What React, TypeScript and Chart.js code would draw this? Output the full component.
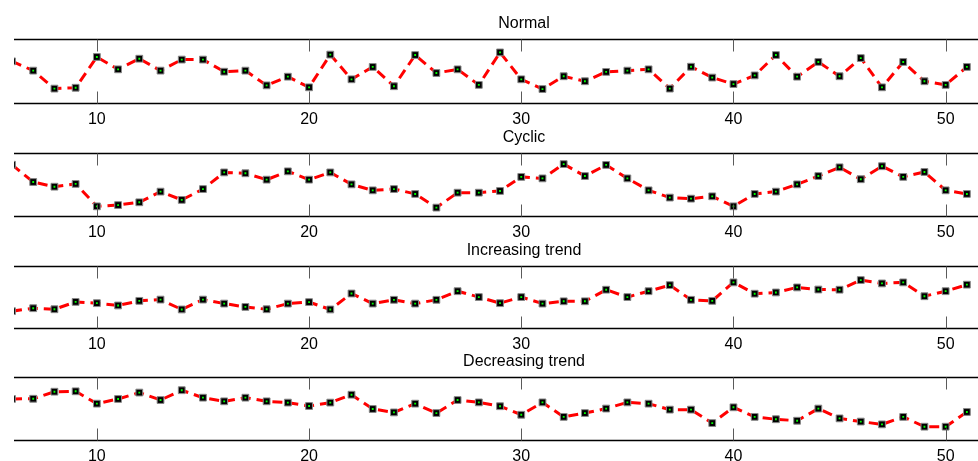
import React, { useEffect, useRef } from "react";
import { Chart, registerables } from "chart.js";

Chart.register(...registerables);

// x positions (sample index)
const xIndex = [
  6, 7, 8, 9, 10, 11, 12, 13, 14, 15, 16, 17, 18, 19, 20, 21, 22, 23, 24, 25, 26, 27, 28,
  29, 30, 31, 32, 33, 34, 35, 36, 37, 38, 39, 40, 41, 42, 43, 44, 45, 46, 47, 48, 49, 50, 51,
];

const xTicks = [10, 20, 30, 40, 50];

const titles = ["Normal", "Cyclic", "Increasing trend", "Decreasing trend"];

const normalValues = [
  39.7, 35.4, 27.1, 27.5, 41.7, 36.0, 40.9, 35.4, 40.5, 40.5, 34.9, 35.4, 28.6, 32.6, 27.7,
  42.8, 31.4, 37.1, 28.2, 42.6, 34.3, 36.0, 28.8, 43.8, 31.4, 26.9, 32.8, 30.5, 34.8, 35.4,
  36.0, 27.1, 37.2, 32.2, 29.2, 33.2, 42.6, 32.6, 39.4, 32.8, 41.2, 27.7, 39.4, 30.5, 28.8,
  37.1,
];

const cyclicValues = [
  44.5, 36.4, 34.2, 35.5, 25.0, 25.6, 26.9, 31.9, 28.0, 33.1, 40.9, 40.5, 37.5, 41.4, 37.5,
  40.9, 35.3, 32.5, 33.1, 30.8, 24.4, 31.4, 31.4, 32.2, 38.8, 38.1, 44.8, 39.2, 44.4, 38.1,
  32.5, 29.1, 28.6, 29.7, 25.0, 30.8, 31.9, 35.3, 39.2, 43.3, 37.7, 43.8, 38.8, 41.1, 32.5,
  30.8,
];

const increasingValues = [
  28.5, 29.9, 29.4, 32.9, 32.3, 31.2, 33.4, 34.0, 29.3, 34.0, 32.1, 30.5, 29.4, 32.1, 32.8,
  29.3, 36.9, 32.1, 33.9, 32.1, 33.9, 38.0, 35.2, 32.3, 35.2, 32.1, 33.2, 33.2, 38.7, 35.2,
  38.0, 40.9, 33.9, 33.4, 42.2, 36.8, 37.4, 39.8, 38.8, 38.7, 43.3, 41.7, 42.2, 35.6, 38.0,
  41.1,
];

const decreasingValues = [
  39.7, 39.8, 43.1, 43.3, 37.5, 39.7, 42.7, 39.2, 43.8, 40.3, 38.6, 40.3, 38.6, 38.0, 36.4,
  38.0, 41.7, 35.0, 33.4, 37.5, 33.1, 39.2, 38.1, 36.3, 32.3, 38.1, 31.3, 33.1, 35.2, 38.1,
  37.5, 34.7, 34.7, 28.4, 35.8, 31.3, 30.2, 29.5, 35.2, 30.6, 29.1, 27.8, 31.3, 26.7, 26.7,
  33.6,
];

const seriesList = [normalValues, cyclicValues, increasingValues, decreasingValues];

const Y_MIN = 20;
const Y_MAX = 50;
const X_MIN = 6.095;
const X_MAX = 53.89;

// layout (pixels)
const PLOT_TOPS = [39, 153, 266, 377];
const PLOT_HEIGHTS = [65, 64, 63, 64];
const TITLE_BLOCK = 24;
const AXIS_BLOCK = 30;
const CANVAS_W = 1034;
const FONT = "'Liberation Sans', Arial, Helvetica, sans-serif";

const framePlugin = {
  id: "frameTicks",
  afterDraw(chart: any) {
    const { ctx, chartArea } = chart;
    const xs = chart.scales.x;
    ctx.save();
    const top = Math.round(chartArea.top) + 0.5;
    const bottom = Math.round(chartArea.bottom) - 0.5;
    ctx.strokeStyle = "#000";
    ctx.lineWidth = 1.3;
    ctx.beginPath();
    ctx.moveTo(chartArea.left, top);
    ctx.lineTo(chartArea.right, top);
    ctx.moveTo(chartArea.left, bottom);
    ctx.lineTo(chartArea.right, bottom);
    ctx.stroke();
    ctx.strokeStyle = "#5a5a5a";
    ctx.lineWidth = 1;
    ctx.beginPath();
    for (const t of xTicks) {
      const px = Math.round(xs.getPixelForValue(t)) + 0.5;
      ctx.moveTo(px, top);
      ctx.lineTo(px, top + 12);
      ctx.moveTo(px, bottom);
      ctx.lineTo(px, bottom - 12);
    }
    ctx.stroke();
    ctx.restore();
  },
};

function Panel({ index }: { index: number }) {
  const ref = useRef<HTMLCanvasElement | null>(null);
  const h = TITLE_BLOCK + PLOT_HEIGHTS[index] + AXIS_BLOCK;
  useEffect(() => {
    if (!ref.current) return;
    const values = seriesList[index];
    const pts = xIndex.map((x, i) => ({ x, y: values[i] }));
    const chart = new Chart(ref.current, {
      type: "line",
      data: {
        datasets: [
          {
            data: pts,
            order: 0,
            showLine: false,
            pointStyle: "rect",
            pointRadius: 1.3,
            pointBackgroundColor: "#00ff00",
            pointBorderWidth: 0,
            clip: { left: 0, right: 0, top: 8, bottom: 8 } as any,
          },
          {
            data: pts,
            order: 1,
            borderColor: "#ff0000",
            borderWidth: 3,
            borderDash: [10, 6],
            tension: 0,
            fill: false,
            pointStyle: "rect",
            pointRadius: 4.8,
            pointBackgroundColor: "#000",
            pointBorderColor: "#888",
            pointBorderWidth: 1,
            clip: { left: 0, right: 0, top: 8, bottom: 8 } as any,
          },
        ],
      },
      options: {
        responsive: false,
        animation: false,
        events: [],
        layout: { padding: { left: 14, right: 0, top: 0, bottom: 0 } },
        plugins: {
          legend: { display: false },
          tooltip: { enabled: false },
          title: {
            display: true,
            text: titles[index],
            align: "center",
            color: "#000",
            font: { family: FONT, size: 16, weight: "normal", lineHeight: "16px" as any },
            padding: { top: 1, bottom: TITLE_BLOCK - 17 },
          },
        },
        scales: {
          x: {
            type: "linear",
            min: X_MIN,
            max: X_MAX,
            afterBuildTicks: (s: any) => {
              s.ticks = xTicks.map((v) => ({ value: v }));
            },
            afterFit: (s: any) => {
              s.height = AXIS_BLOCK;
            },
            grid: { display: false, drawTicks: false },
            border: { display: false },
            ticks: {
              color: "#000",
              font: { family: FONT, size: 16, lineHeight: "16px" as any },
              padding: 8,
              maxRotation: 0,
              autoSkip: false,
              callback: (v: any) => String(v),
            },
          },
          y: {
            display: false,
            min: Y_MIN,
            max: Y_MAX,
          },
        },
      },
      plugins: [framePlugin],
    });
    return () => chart.destroy();
  }, [index]);
  return (
    <canvas
      ref={ref}
      width={CANVAS_W}
      height={h}
      style={{
        position: "absolute",
        left: 0,
        top: PLOT_TOPS[index] - TITLE_BLOCK,
        width: CANVAS_W,
        height: h,
      }}
    />
  );
}

export default function App() {
  return (
    <div
      style={{
        position: "fixed",
        left: 0,
        top: 0,
        width: 978,
        height: 461,
        overflow: "hidden",
        background: "#fff",
      }}
    >
      {[0, 1, 2, 3].map((i) => (
        <Panel key={i} index={i} />
      ))}
    </div>
  );
}
